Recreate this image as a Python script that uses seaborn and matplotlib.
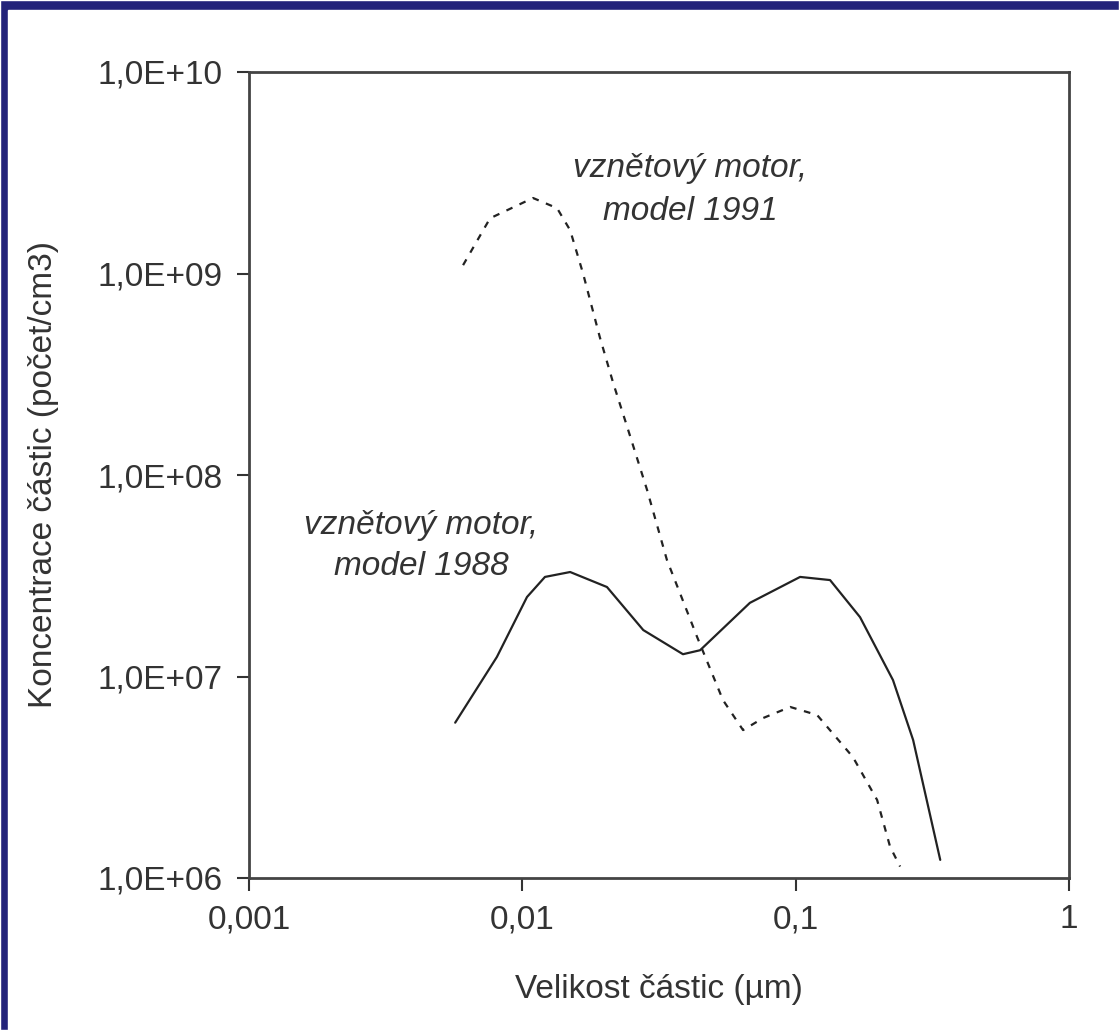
import numpy as np
import pandas as pd
import matplotlib
matplotlib.use("Agg")
import matplotlib.pyplot as plt
import seaborn as sns
from matplotlib.patches import Rectangle

# values
size_1988 = [0.00568, 0.00807, 0.0104, 0.0121, 0.01496, 0.0204, 0.0277, 0.0387,
             0.0447, 0.068, 0.1038, 0.1336, 0.172, 0.227, 0.269, 0.338]
conc_1988 = [5.9e6, 1.25e7, 2.48e7, 3.12e7, 3.3e7, 2.78e7, 1.70e7, 1.29e7,
             1.35e7, 2.32e7, 3.12e7, 3.01e7, 1.97e7, 9.6e6, 4.84e6, 1.23e6]

size_1991 = [0.00607, 0.00762, 0.01094, 0.0134, 0.01496, 0.01668, 0.0192, 0.0215,
             0.0242, 0.0286, 0.0338, 0.0377, 0.0436, 0.0542, 0.0642, 0.076,
             0.0955, 0.1198, 0.162, 0.1986, 0.2215, 0.241]
conc_1991 = [1.10e9, 1.88e9, 2.37e9, 2.11e9, 1.64e9, 1.0e9, 4.84e8, 2.86e8,
             1.73e8, 8.43e7, 3.79e7, 2.6e7, 1.57e7, 7.64e6, 5.42e6, 6.22e6,
             7.06e6, 6.44e6, 3.98e6, 2.44e6, 1.43e6, 1.14e6]

x_ticks = [0.001, 0.01, 0.1, 1]
x_labels = ["0,001", "0,01", "0,1", "1"]
y_ticks = [1e6, 1e7, 1e8, 1e9, 1e10]
y_labels = ["1,0E+06", "1,0E+07", "1,0E+08", "1,0E+09", "1,0E+10"]

df88 = pd.DataFrame({"size": size_1988, "conc": conc_1988})
df91 = pd.DataFrame({"size": size_1991, "conc": conc_1991})

sns.set_style("white")
plt.rcParams["font.family"] = ["Liberation Sans", "DejaVu Sans"]

fig = plt.figure(figsize=(11.19, 10.30), dpi=100)
# navy frame on the left and top
fig.patches.append(Rectangle((0, 0), 1, 1, transform=fig.transFigure,
                             facecolor="#23237a", zorder=-2))
fig.patches.append(Rectangle((8 / 1119, 0), 1, 1 - 10 / 1030, transform=fig.transFigure,
                             facecolor="white", zorder=-1))

ax = fig.add_axes([249 / 1119, 1 - 878 / 1030, (1069 - 249) / 1119, (878 - 72) / 1030])
ax.set_facecolor("white")

sns.lineplot(data=df88, x="size", y="conc", ax=ax, color="#222222", lw=1.6, sort=False)
sns.lineplot(data=df91, x="size", y="conc", ax=ax, color="#222222", lw=1.6, sort=False,
             linestyle=(0, (3, 3.5)))

ax.set_xscale("log")
ax.set_yscale("log")
ax.set_xlim(0.001, 1)
ax.set_ylim(1e6, 1e10)
ax.set_xticks(x_ticks)
ax.set_xticklabels(x_labels)
ax.set_yticks(y_ticks)
ax.set_yticklabels(y_labels)
ax.minorticks_off()
ax.tick_params(axis="both", direction="out", length=9, width=1.5, color="#333333",
               labelsize=24, labelcolor="#333333", pad=10, left=True, bottom=True)

for sp in ax.spines.values():
    sp.set_visible(True)
    sp.set_color("#444444")
    sp.set_linewidth(2)

ax.set_xlabel("Velikost částic (µm)", fontsize=24, color="#333333", labelpad=28)
ax.set_ylabel("Koncentrace částic (počet/cm3)", fontsize=24, color="#333333", labelpad=28)

ax.text(0.0411, 2.6e9, "vznětový motor,\nmodel 1991", fontsize=24, style="italic",
        color="#333333", ha="center", va="center", linespacing=1.5)
ax.text(0.00426, 4.45e7, "vznětový motor,\nmodel 1988", fontsize=24, style="italic",
        color="#333333", ha="center", va="center", linespacing=1.4)

fig.savefig("out.png", dpi=100)
